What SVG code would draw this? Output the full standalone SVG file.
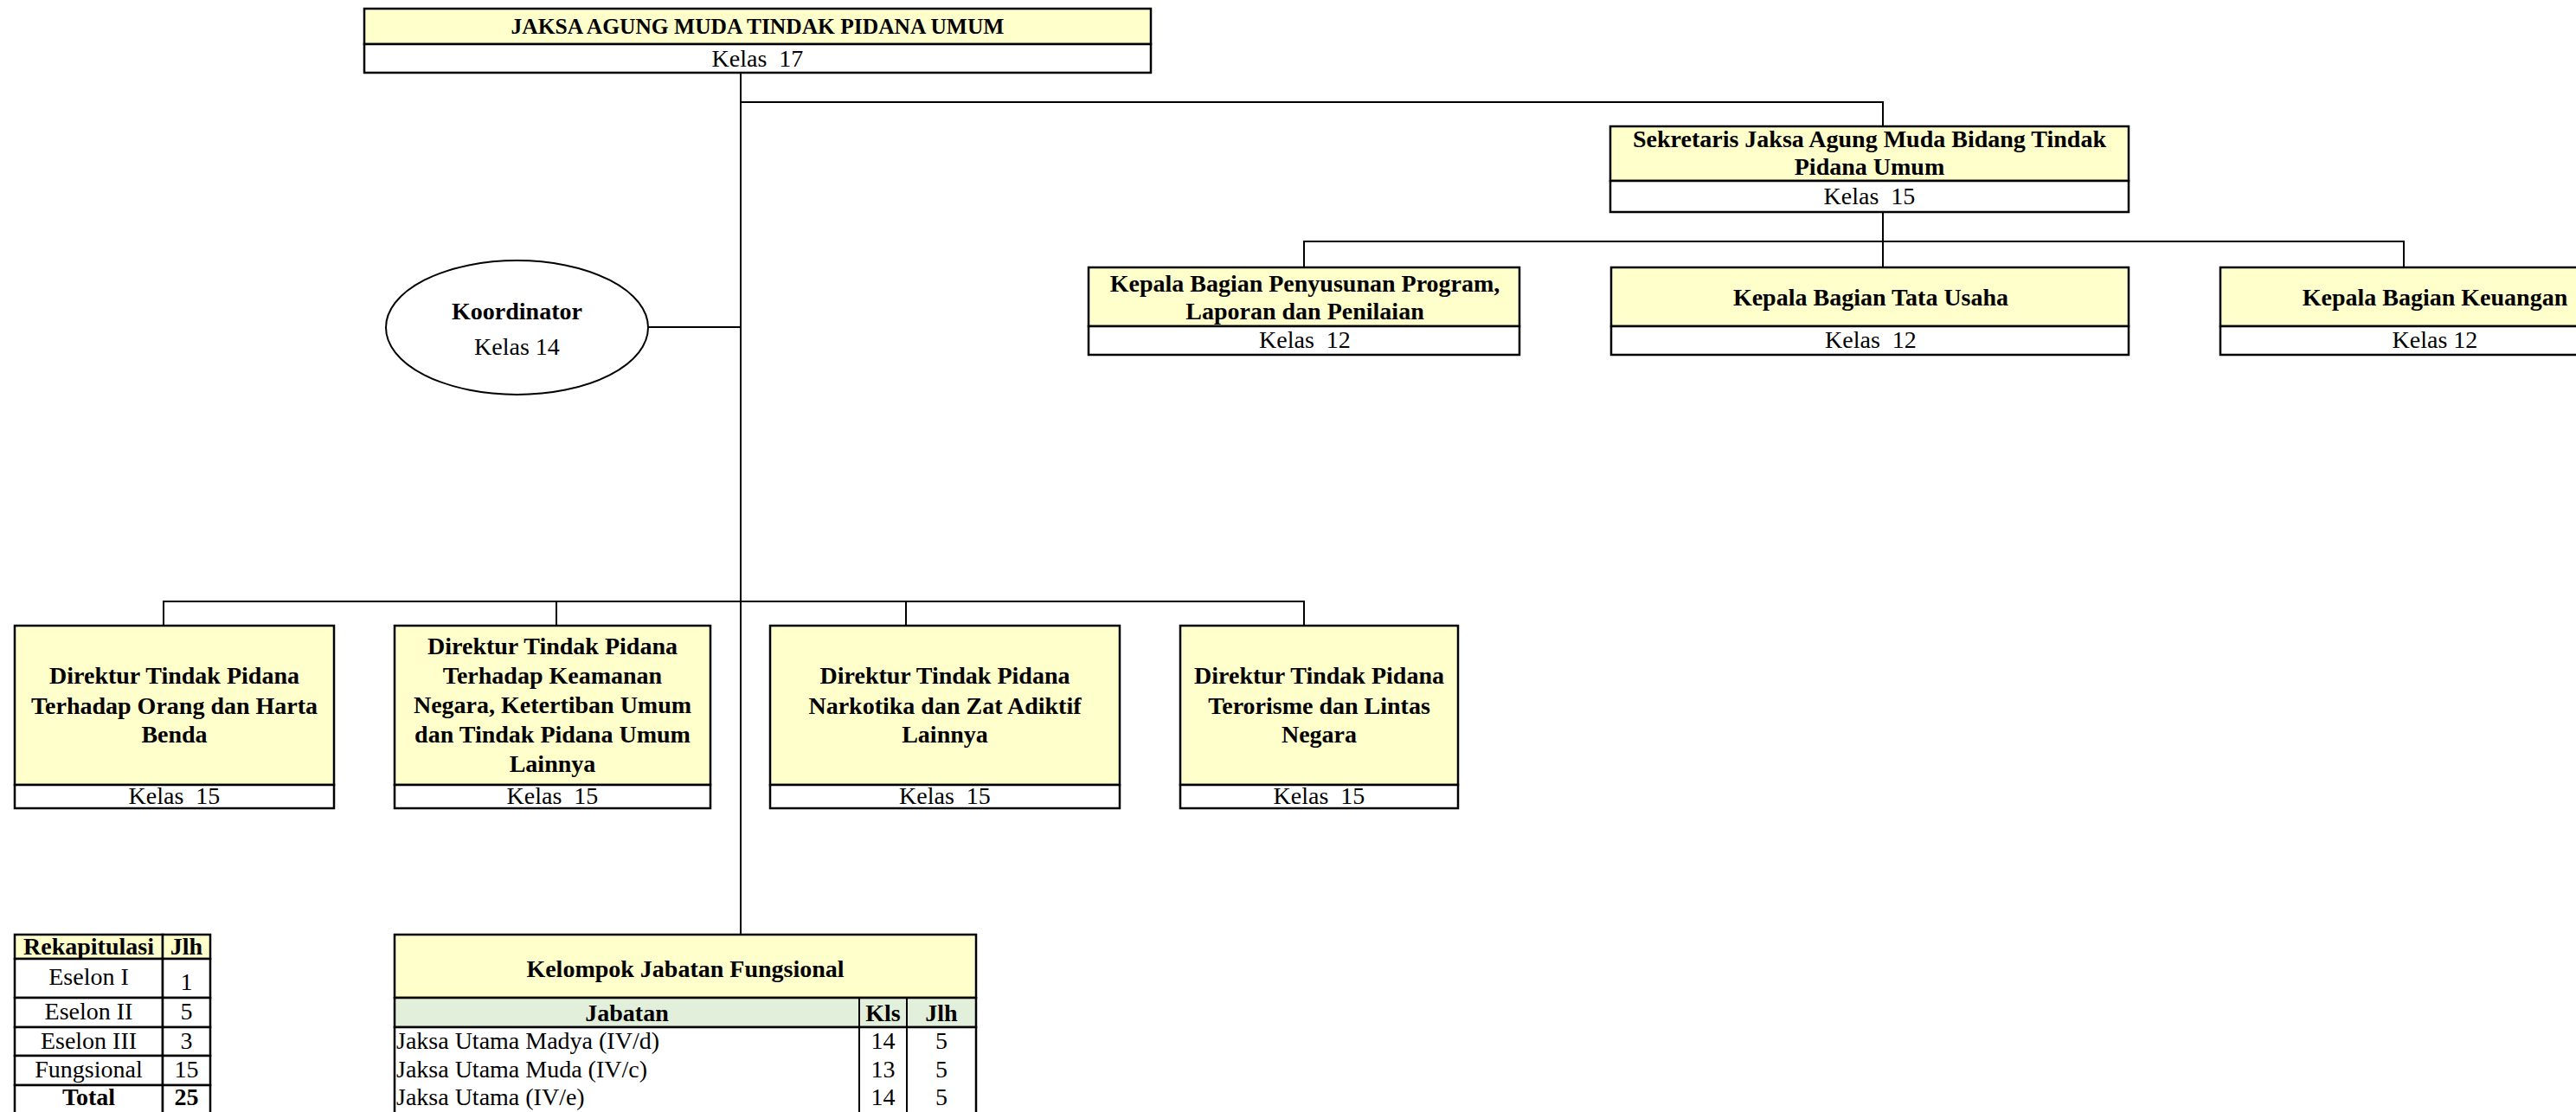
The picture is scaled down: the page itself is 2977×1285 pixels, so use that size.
<svg xmlns="http://www.w3.org/2000/svg" width="2977" height="1285" viewBox="0 0 2977 1285">
<style>
text{font-family:"Liberation Serif","Times New Roman",serif;fill:#000;white-space:pre}
.b{font-weight:bold;font-size:28px;text-anchor:middle}
.r{font-size:28px;text-anchor:middle}
.l{font-size:28px;text-anchor:start}
.t{font-weight:bold;font-size:25.5px;text-anchor:middle}
.y{fill:#FFFFCC;stroke:#000;stroke-width:2.5}
.w{fill:#FFFFFF;stroke:#000;stroke-width:2.5}
.g{fill:#E2EFDA;stroke:#000;stroke-width:2.5}
.c{fill:none;stroke:#000;stroke-width:2}
.k{fill:none;stroke:#000;stroke-width:2}
</style>
<rect width="2977" height="1285" fill="#fff"/>
<g id="connectors">
<path class="c" d="M856 84V1080"/>
<path class="c" d="M856 118H2176V146"/>
<path class="c" d="M2176 245V309"/>
<path class="c" d="M1507 309V279H2778V309"/>
<path class="c" d="M749 378H856"/>
<path class="c" d="M189 723V695H1507V723"/>
<path class="c" d="M643 695V723"/>
<path class="c" d="M1047 695V723"/>
</g>
<g id="jaksa-agung-muda">
<rect class="y" x="421" y="10" width="909" height="41"/>
<rect class="w" x="421" y="51" width="909" height="33"/>
<text class="t" x="875.5" y="38.5">JAKSA AGUNG MUDA TINDAK PIDANA UMUM</text>
<text class="r" x="875.5" y="77">Kelas  17</text>
</g>
<g id="sekretaris">
<rect class="y" x="1861" y="146" width="599" height="63"/>
<rect class="w" x="1861" y="209" width="599" height="36"/>
<text class="b" x="2160.5" y="170">Sekretaris Jaksa Agung Muda Bidang Tindak</text>
<text class="b" x="2160.5" y="202">Pidana Umum</text>
<text class="r" x="2160.5" y="236">Kelas  15</text>
</g>
<g id="kabag-program">
<rect class="y" x="1258" y="309" width="498" height="68"/>
<rect class="w" x="1258" y="377" width="498" height="33"/>
<text class="b" x="1508" y="337">Kepala Bagian Penyusunan Program,</text>
<text class="b" x="1508" y="369">Laporan dan Penilaian</text>
<text class="r" x="1508" y="402">Kelas  12</text>
</g>
<g id="kabag-tata-usaha">
<rect class="y" x="1862" y="309" width="598" height="68"/>
<rect class="w" x="1862" y="377" width="598" height="33"/>
<text class="b" x="2162" y="353">Kepala Bagian Tata Usaha</text>
<text class="r" x="2162" y="402">Kelas  12</text>
</g>
<g id="kabag-keuangan">
<rect class="y" x="2566" y="309" width="497" height="68"/>
<rect class="w" x="2566" y="377" width="497" height="33"/>
<text class="b" x="2814" y="353">Kepala Bagian Keuangan</text>
<text class="r" x="2814" y="402">Kelas 12</text>
</g>
<g id="koordinator">
<ellipse cx="597.5" cy="378.5" rx="151.5" ry="77.5" fill="#fff" stroke="#000" stroke-width="2"/>
<text class="b" x="597.5" y="369">Koordinator</text>
<text class="r" x="597.5" y="410">Kelas 14</text>
</g>
<g id="dir-orang-harta">
<rect class="y" x="17" y="723" width="369" height="184"/>
<rect class="w" x="17" y="907" width="369" height="27"/>
<text class="b" x="201.5" y="790">Direktur Tindak Pidana</text>
<text class="b" x="201.5" y="825">Terhadap Orang dan Harta</text>
<text class="b" x="201.5" y="858">Benda</text>
<text class="r" x="201.5" y="929">Kelas  15</text>
</g>
<g id="dir-keamanan-negara">
<rect class="y" x="456" y="723" width="365" height="184"/>
<rect class="w" x="456" y="907" width="365" height="27"/>
<text class="b" x="638.5" y="756">Direktur Tindak Pidana</text>
<text class="b" x="638.5" y="790">Terhadap Keamanan</text>
<text class="b" x="638.5" y="824">Negara, Ketertiban Umum</text>
<text class="b" x="638.5" y="858">dan Tindak Pidana Umum</text>
<text class="b" x="638.5" y="892">Lainnya</text>
<text class="r" x="638.5" y="929">Kelas  15</text>
</g>
<g id="dir-narkotika">
<rect class="y" x="890" y="723" width="404" height="184"/>
<rect class="w" x="890" y="907" width="404" height="27"/>
<text class="b" x="1092" y="790">Direktur Tindak Pidana</text>
<text class="b" x="1092" y="825">Narkotika dan Zat Adiktif</text>
<text class="b" x="1092" y="858">Lainnya</text>
<text class="r" x="1092" y="929">Kelas  15</text>
</g>
<g id="dir-terorisme">
<rect class="y" x="1364" y="723" width="321" height="184"/>
<rect class="w" x="1364" y="907" width="321" height="27"/>
<text class="b" x="1524.5" y="790">Direktur Tindak Pidana</text>
<text class="b" x="1524.5" y="825">Terorisme dan Lintas</text>
<text class="b" x="1524.5" y="858">Negara</text>
<text class="r" x="1524.5" y="929">Kelas  15</text>
</g>
<g id="kelompok-fungsional">
<rect class="y" x="456" y="1080" width="672" height="73"/>
<rect class="g" x="456" y="1153" width="672" height="34"/>
<rect class="w" x="456" y="1187" width="672" height="110"/>
<path class="k" d="M993 1153V1297M1048 1153V1297"/>
<text class="b" x="792" y="1129">Kelompok Jabatan Fungsional</text>
<text class="b" x="724.5" y="1180">Jabatan</text>
<text class="b" x="1020.5" y="1180">Kls</text>
<text class="b" x="1088" y="1180">Jlh</text>
<text class="l" x="458" y="1212">Jaksa Utama Madya (IV/d)</text>
<text class="r" x="1020.5" y="1212">14</text>
<text class="r" x="1088" y="1212">5</text>
<text class="l" x="458" y="1245">Jaksa Utama Muda (IV/c)</text>
<text class="r" x="1020.5" y="1245">13</text>
<text class="r" x="1088" y="1245">5</text>
<text class="l" x="458" y="1277">Jaksa Utama (IV/e)</text>
<text class="r" x="1020.5" y="1277">14</text>
<text class="r" x="1088" y="1277">5</text>
</g>
<g id="rekapitulasi">
<rect class="y" x="17" y="1080" width="171" height="28"/>
<rect class="y" x="188" y="1080" width="55" height="28"/>
<rect class="w" x="17" y="1108" width="171" height="45"/>
<rect class="w" x="188" y="1108" width="55" height="45"/>
<rect class="w" x="17" y="1153" width="171" height="34"/>
<rect class="w" x="188" y="1153" width="55" height="34"/>
<rect class="w" x="17" y="1187" width="171" height="33"/>
<rect class="w" x="188" y="1187" width="55" height="33"/>
<rect class="w" x="17" y="1220" width="171" height="34"/>
<rect class="w" x="188" y="1220" width="55" height="34"/>
<rect class="w" x="17" y="1254" width="171" height="40"/>
<rect class="w" x="188" y="1254" width="55" height="40"/>
<text class="b" x="102.5" y="1103">Rekapitulasi</text>
<text class="b" x="215.5" y="1103">Jlh</text>
<text class="r" x="102.5" y="1138">Eselon I</text>
<text class="r" x="215.5" y="1144">1</text>
<text class="r" x="102.5" y="1178">Eselon II</text>
<text class="r" x="215.5" y="1178">5</text>
<text class="r" x="102.5" y="1212">Eselon III</text>
<text class="r" x="215.5" y="1212">3</text>
<text class="r" x="102.5" y="1245">Fungsional</text>
<text class="r" x="215.5" y="1245">15</text>
<text class="b" x="102.5" y="1277">Total</text>
<text class="b" x="215.5" y="1277">25</text>
</g>
</svg>
